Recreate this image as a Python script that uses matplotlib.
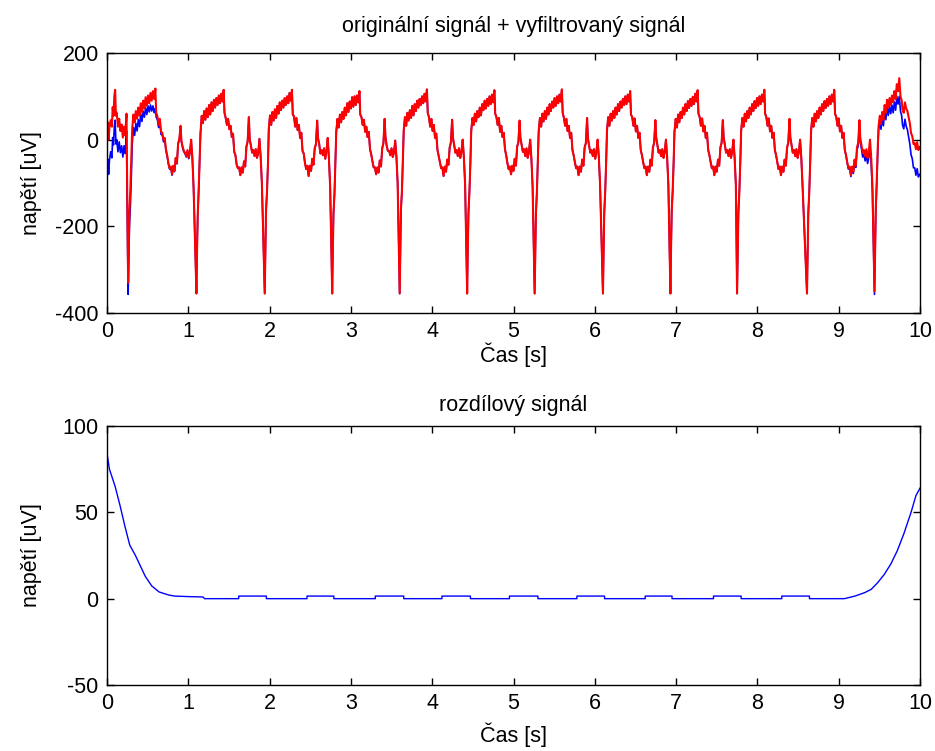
import numpy as np
import matplotlib
matplotlib.use("Agg")
import matplotlib.pyplot as plt

plt.rcParams['font.family'] = ['Liberation Sans', 'DejaVu Sans']
plt.rcParams['axes.unicode_minus'] = False

# ---------------- data ----------------
# QRS trough times [s]
troughs = [0.26, 1.10, 1.94, 2.77, 3.60, 4.43, 5.26, 6.10, 6.93, 7.75, 8.61, 9.44]

# sampling offsets within one beat, relative to its trough [s]
beat_offsets = [
    0.000, 0.008, 0.016, 0.028, 0.040, 0.050, 0.065, 0.080, 0.095, 0.110,
    0.125, 0.140, 0.155, 0.170, 0.185, 0.200, 0.215, 0.230, 0.245, 0.260,
    0.275, 0.290, 0.305, 0.320, 0.335, 0.345, 0.360, 0.375, 0.390, 0.405,
    0.420, 0.435, 0.450, 0.465, 0.480, 0.495, 0.510, 0.525, 0.540, 0.555,
    0.570, 0.585, 0.600, 0.615, 0.630, 0.645, 0.655, 0.670, 0.685, 0.700,
    0.715, 0.730, 0.745, 0.760, 0.775, 0.790, 0.805]

# segment before first beat
lead_t = [0.0, 0.01, 0.02, 0.03, 0.045, 0.06, 0.07, 0.08, 0.09, 0.10, 0.11,
          0.12, 0.135, 0.15, 0.165, 0.18, 0.195, 0.21, 0.225, 0.24, 0.25]
lead_red = [20, 40, 0, 30, 45, 30, 75, 55, 100, 115, 55,
            62, 30, 48, 20, 35, 5, 30, 10, 60, -150]
lead_blue = [-65, -45, -80, -48, -28, -42, 5, -12, 30, 45, -10,
             0, -28, -5, -30, -14, -40, -14, -32, 20, -185]

# filtered signal (red), one list per beat [uV]
beat01_red = [-330, -250, -165, -110, -40, 25, 58, 40, 66, 48,
              74, 56, 84, 64, 90, 72, 98, 78, 102, 84,
              108, 90, 112, 94, 118, 62, 54, 34, 48, 18,
              16, 0, 4, -22, -36, -54, -66, -62, -80, -60,
              -72, -42, -54, -8, 2, 32, -2, -16, -26, -30,
              -38, -24, -42, -28, 0, -42, -110]
beat02_red = [-355, -250, -175, -115, -40, 15, 55, 38, 66, 46,
              72, 52, 80, 58, 86, 66, 92, 74, 96, 80,
              102, 84, 106, 88, 115, 62, 50, 34, 48, 24,
              32, 6, 14, -28, -36, -58, -66, -64, -82, -64,
              -76, -50, -62, -16, -4, 52, 2, -14, -30, -24,
              -38, -22, -42, -30, 2, -40, -100]
beat03_red = [-355, -260, -165, -120, -55, 25, 56, 34, 64, 44,
              70, 50, 78, 60, 86, 68, 90, 74, 96, 80,
              100, 84, 108, 90, 115, 58, 54, 30, 50, 22,
              34, 4, 16, -26, -32, -54, -68, -60, -84, -60,
              -72, -44, -58, -20, -10, 44, 4, -10, -32, -24,
              -36, -20, -44, -26, 4, -44, -110]
beat04_red = [-355, -250, -170, -125, -50, 18, 48, 28, 58, 40,
              64, 48, 74, 56, 84, 64, 88, 72, 98, 76,
              100, 80, 102, 86, 112, 58, 52, 34, 46, 18,
              30, 6, 18, -22, -34, -50, -64, -64, -80, -64,
              -76, -48, -62, -20, -8, 48, 6, -14, -26, -26,
              -36, -20, -40, -30, -2, -40, -100]
beat05_red = [-355, -255, -160, -118, -45, 22, 52, 32, 62, 44,
              68, 50, 78, 56, 82, 66, 90, 74, 94, 80,
              100, 84, 106, 88, 116, 62, 52, 30, 48, 20,
              34, 4, 14, -24, -38, -52, -66, -64, -84, -62,
              -74, -46, -58, -18, -6, 46, 4, -12, -30, -24,
              -38, -20, -42, -28, 0, -42, -105]
beat06_red = [-355, -250, -170, -120, -52, 20, 50, 34, 60, 42,
              66, 52, 74, 56, 82, 68, 90, 72, 94, 78,
              100, 82, 104, 86, 114, 60, 52, 34, 50, 18,
              32, 6, 16, -22, -36, -54, -68, -62, -80, -60,
              -72, -44, -60, -16, -6, 44, 4, -12, -28, -22,
              -38, -20, -42, -28, 0, -44, -108]
beat07_red = [-355, -255, -170, -120, -48, 20, 50, 30, 60, 42,
              66, 48, 74, 58, 82, 66, 88, 74, 96, 78,
              100, 84, 104, 88, 116, 62, 50, 32, 48, 20,
              32, 4, 16, -24, -36, -52, -66, -62, -82, -62,
              -74, -46, -60, -18, -8, 50, 4, -14, -30, -24,
              -38, -22, -44, -28, 0, -42, -105]
beat08_red = [-355, -255, -170, -120, -50, 22, 52, 32, 60, 44,
              66, 50, 74, 58, 82, 66, 88, 74, 94, 80,
              100, 82, 104, 88, 112, 58, 52, 32, 49, 19,
              32, 4, 16, -24, -36, -52, -66, -62, -82, -62,
              -74, -46, -60, -18, -7, 45, 5, -12, -30, -24,
              -38, -22, -42, -28, 0, -42, -105]
beat09_red = [-355, -250, -165, -118, -50, 18, 48, 28, 58, 40,
              64, 50, 74, 58, 82, 66, 89, 73, 94, 78,
              99, 82, 106, 88, 114, 60, 52, 32, 49, 19,
              32, 4, 16, -24, -36, -52, -66, -62, -82, -62,
              -74, -46, -60, -18, -7, 45, 5, -12, -30, -24,
              -38, -22, -42, -28, 0, -42, -105]
beat10_red = [-355, -255, -170, -120, -50, 20, 50, 30, 60, 42,
              66, 50, 74, 58, 82, 66, 89, 73, 96, 78,
              100, 82, 104, 88, 115, 60, 52, 32, 49, 19,
              32, 4, 16, -24, -36, -52, -68, -62, -82, -62,
              -74, -46, -60, -18, -7, 48, 5, -12, -30, -24,
              -38, -22, -42, -28, 0, -42, -105]
beat11_red = [-355, -255, -170, -120, -50, 20, 50, 30, 60, 42,
              66, 50, 74, 58, 82, 66, 89, 73, 94, 78,
              100, 82, 104, 88, 115, 60, 52, 32, 49, 19,
              32, 4, 16, -24, -36, -52, -66, -62, -82, -62,
              -74, -46, -60, -18, -7, 45, 5, -12, -30, -24,
              -38, -22, -42, -28, 0, -42, -105]
beat12_red = [-350, -250, -160, -95, -20, 30, 55, 36, 64, 46,
              80, 62, 92, 74, 96, 80, 102, 86, 112, 94,
              128, 112, 142, 100, 90, 70, 62, 86, 72, 66,
              52, 38, 15, 8, -10, -8, -22, -6, -24, -17]

# original signal (blue) where it differs from the red one
beat01_blue = [-357, -285, -200, -150, -80, -10, 28, 10, 38, 20,
               46, 30, 60, 42, 66, 52, 74, 58, 78, 64,
               80, 66, 78, 62, 72, 52, 46, 28, 40, 12,
               11, -5, 0, -25, -38, -56, -68, -64, -82, -62,
               -74, -44, -56, -10, 0, 30, -4, -18, -28, -32,
               -40, -26, -44, -30, -2, -44, -112]
beat11_blue = [-355, -255, -170, -120, -50, 20, 50, 30, 60, 42,
               66, 50, 74, 58, 82, 66, 89, 73, 94, 78,
               100, 82, 104, 88, 115, 60, 52, 32, 49, 19,
               32, 4, 16, -24, -36, -54, -68, -65, -85, -66,
               -78, -50, -64, -24, -14, 38, -4, -21, -40, -34,
               -49, -34, -55, -42, -14, -57, -122]
beat12_blue = [-357, -258, -168, -103, -29, 20, 44, 24, 51, 32,
               65, 46, 75, 56, 77, 60, 80, 62, 87, 68,
               100, 82, 100, 66, 55, 34, 25, 47, 31, 23,
               6, -10, -35, -44, -65, -65, -82, -67, -86, -80]

# difference signal
diff_t = [0.0, 0.03, 0.10, 0.16, 0.22, 0.28, 0.35, 0.41, 0.47, 0.55, 0.64,
          0.76, 0.83, 1.00, 1.18, 1.20,
          1.62, 1.62, 1.96, 1.96, 2.46, 2.46, 2.79, 2.79, 3.30, 3.30,
          3.65, 3.65, 4.12, 4.12, 4.47, 4.47, 4.95, 4.95, 5.30, 5.30,
          5.78, 5.78, 6.12, 6.12, 6.62, 6.62, 6.95, 6.95, 7.46, 7.46,
          7.80, 7.80, 8.30, 8.30, 8.64, 8.64,
          9.07, 9.20, 9.32, 9.40, 9.48, 9.56, 9.64, 9.72, 9.80, 9.89,
          9.95, 10.0]
diff_v = [84, 75, 65, 54, 42, 31, 25, 19, 13, 7.4, 3.9,
          2.1, 1.5, 1.2, 1.0, 0,
          0, 1.5, 1.5, 0, 0, 1.5, 1.5, 0, 0, 1.5,
          1.5, 0, 0, 1.5, 1.5, 0, 0, 1.5, 1.5, 0,
          0, 1.5, 1.5, 0, 0, 1.5, 1.5, 0, 0, 1.5,
          1.5, 0, 0, 1.5, 1.5, 0,
          0, 1.5, 3.5, 5.4, 9.3, 14, 20, 27.7, 37.4, 50,
          59.7, 64]

red_beats = [beat01_red, beat02_red, beat03_red, beat04_red, beat05_red,
             beat06_red, beat07_red, beat08_red, beat09_red, beat10_red,
             beat11_red, beat12_red]
blue_beats = [beat01_blue, beat02_red, beat03_red, beat04_red, beat05_red,
              beat06_red, beat07_red, beat08_red, beat09_red, beat10_red,
              beat11_blue, beat12_blue]

def assemble(lead_v, beats):
    t = list(lead_t)
    v = list(lead_v)
    for T, vals in zip(troughs, beats):
        t += [T + o for o in beat_offsets[:len(vals)]]
        v += list(vals)
    return np.array(t), np.array(v)

red_t, red_v = assemble(lead_red, red_beats)
blue_t, blue_v = assemble(lead_blue, blue_beats)

# ---------------- plot ----------------
W, H = 935, 751
fig = plt.figure(figsize=(W / 100, H / 100), dpi=100)

def px_axes(l, t, r, b):
    return fig.add_axes([l / W, 1 - b / H, (r - l) / W, (b - t) / H])

ax1 = px_axes(107, 53, 920, 313)
ax2 = px_axes(107, 426, 920, 685)

FS = 15.5
for ax in (ax1, ax2):
    ax.tick_params(direction='in', top=True, right=True, length=5, width=1,
                   labelsize=FS, colors='black')
    ax.tick_params(axis='x', pad=6)
    ax.tick_params(axis='y', pad=6)
    for s in ax.spines.values():
        s.set_linewidth(1.0)
    ax.set_xlim(0, 10)
    ax.set_xticks(range(0, 11))

ax1.plot(blue_t, blue_v, color='#0000ff', lw=1.2)
ax1.plot(red_t, red_v, color='#ff0000', lw=1.5)
ax1.set_ylim(-400, 200)
ax1.set_yticks([-400, -200, 0, 200])
ax1.set_title('originální signál + vyfiltrovaný signál', fontsize=FS, pad=15)
ax1.set_xlabel('Čas [s]', fontsize=FS)
ax1.set_ylabel('napětí [uV]', fontsize=FS)
ax1.xaxis.set_label_coords(0.5, -0.112)
ax1.yaxis.set_label_coords(-0.08, 0.5)

ax2.plot(diff_t, diff_v, color='#0000ff', lw=1.0)
ax2.set_ylim(-50, 100)
ax2.set_yticks([-50, 0, 50, 100])
ax2.set_title('rozdílový signál', fontsize=FS, pad=11)
ax2.set_xlabel('Čas [s]', fontsize=FS)
ax2.set_ylabel('napětí [uV]', fontsize=FS)
ax2.xaxis.set_label_coords(0.5, -0.145)
ax2.yaxis.set_label_coords(-0.08, 0.5)

fig.savefig('out.png', dpi=100)
